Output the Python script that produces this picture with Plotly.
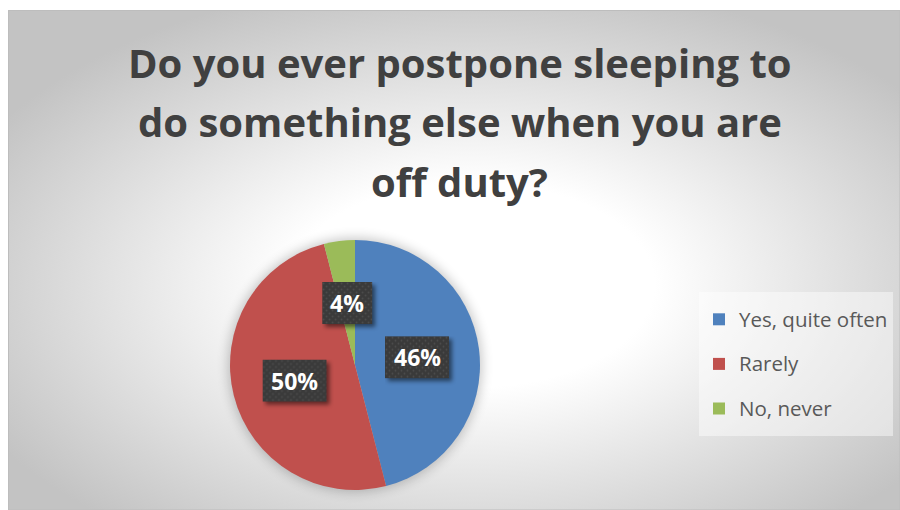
import base64
import math
import plotly.graph_objects as go

# Survey answers
categories = ["Yes, quite often", "Rarely", "No, never"]
shares = [46, 50, 4]
slice_colors = ["#4f81bd", "#c0504d", "#9bbb59"]
title_lines = [
    "Do you ever postpone sleeping to",
    "do something else when you are",
    "off duty?",
]

W, H = 900, 510
# frame of the chart area (pixels from top-left)
FX0, FY0 = 8, 10
# pie geometry in pixels
PCX, PCY, PR = 355, 365, 125


def px_x(x):
    return x / W


def px_y(y):
    return 1 - y / H


def svg_uri(svg):
    return "data:image/svg+xml;base64," + base64.b64encode(svg.encode()).decode()


fw, fh = W - FX0, H - FY0
bg_svg = f"""<svg xmlns="http://www.w3.org/2000/svg" width="{fw}" height="{fh}" viewBox="0 0 {fw} {fh}" preserveAspectRatio="none">
<defs><radialGradient id="g" cx="0.52" cy="0.55" r="0.62">
<stop offset="0" stop-color="#ffffff"/><stop offset="0.33" stop-color="#ffffff"/>
<stop offset="1" stop-color="#c3c3c3"/></radialGradient></defs>
<rect width="{fw}" height="{fh}" fill="url(#g)"/></svg>"""

halo = PR + 30
halo_svg = f"""<svg xmlns="http://www.w3.org/2000/svg" width="{2*halo}" height="{2*halo}">
<defs><filter id="b" x="-30%" y="-30%" width="160%" height="160%"><feGaussianBlur stdDeviation="6"/></filter></defs>
<circle cx="{halo}" cy="{halo}" r="{PR+2}" fill="#000" opacity="0.22" filter="url(#b)"/></svg>"""

fig = go.Figure(
    go.Pie(
        labels=[f"<span style='font-size:20.5px;baseline-shift:5px'>{c}</span>" for c in categories],
        values=shares,
        marker=dict(colors=slice_colors, line=dict(width=0)),
        sort=False,
        direction="clockwise",
        rotation=0,
        textinfo="none",
        hoverinfo="skip",
        domain=dict(x=[px_x(PCX - PR), px_x(PCX + PR)], y=[px_y(PCY + PR), px_y(PCY - PR)]),
    )
)

images = [
    dict(source=svg_uri(bg_svg), xref="paper", yref="paper", x=px_x(FX0), y=px_y(FY0),
         sizex=fw / W, sizey=fh / H, xanchor="left", yanchor="top", sizing="stretch", layer="below"),
    dict(source=svg_uri(halo_svg), xref="paper", yref="paper", x=px_x(PCX), y=px_y(PCY),
         sizex=2 * halo / W, sizey=2 * halo / H, xanchor="center", yanchor="middle",
         sizing="stretch", layer="below"),
]

annotations = []
for i, line in enumerate(title_lines):
    annotations.append(dict(
        text=line, x=px_x(460), y=px_y(62 + i * 59.5), xref="paper", yref="paper",
        xanchor="center", yanchor="middle", showarrow=False,
        font=dict(family="Open Sans", size=40, color="#404040", weight="bold"),
    ))

# dark value labels at half radius along each slice bisector
total = sum(shares)
cum = 0
for v in shares:
    mid = (cum + v / 2) / total * 2 * math.pi
    cum += v
    lx = PCX + 0.5 * PR * math.sin(mid)
    ly = PCY - 0.5 * PR * math.cos(mid)
    txt = f"{round(v / total * 100)}%"
    bw, bh = 14 * len(txt) + 22, 42
    pad = 12
    box_svg = f"""<svg xmlns="http://www.w3.org/2000/svg" width="{bw+pad}" height="{bh+pad}">
<defs><filter id="s" x="-20%" y="-20%" width="150%" height="150%"><feGaussianBlur stdDeviation="2"/></filter>
<pattern id="p" width="6" height="6" patternUnits="userSpaceOnUse">
<rect width="6" height="6" fill="#3a3a3a"/><circle cx="1.5" cy="1.5" r="0.9" fill="#4d4d4d"/>
<circle cx="4.5" cy="4.5" r="0.9" fill="#4d4d4d"/></pattern></defs>
<rect x="3" y="3" width="{bw}" height="{bh}" fill="#000" opacity="0.5" filter="url(#s)"/>
<rect x="0" y="0" width="{bw}" height="{bh}" fill="url(#p)"/></svg>"""
    images.append(dict(
        source=svg_uri(box_svg), xref="paper", yref="paper",
        x=px_x(lx - bw / 2), y=px_y(ly - bh / 2), sizex=(bw + pad) / W, sizey=(bh + pad) / H,
        xanchor="left", yanchor="top", sizing="stretch", layer="above",
    ))
    annotations.append(dict(
        text=txt, x=px_x(lx), y=px_y(ly), xref="paper", yref="paper",
        xanchor="center", yanchor="middle", showarrow=False,
        font=dict(family="Open Sans", size=23, color="#ffffff", weight="bold"),
    ))

fig.update_layout(
    width=W, height=H, autosize=False,
    margin=dict(l=0, r=0, t=0, b=0),
    paper_bgcolor="#ffffff",
    images=images,
    annotations=annotations,
    shapes=[dict(type="rect", xref="paper", yref="paper", x0=px_x(FX0 + 0.5), x1=1.0,
                 y0=0.0, y1=px_y(FY0 + 0.5), line=dict(color="#bdbdbd", width=1), layer="above")],
    showlegend=True,
    legend=dict(
        x=px_x(699), y=px_y(292), xanchor="left", yanchor="top",
        bgcolor="rgba(255,255,255,0.45)", borderwidth=0,
        font=dict(family="Open Sans", size=32, color="#595959"),
        itemwidth=30, traceorder="normal",
    ),
)

fig.write_html("out.html")
